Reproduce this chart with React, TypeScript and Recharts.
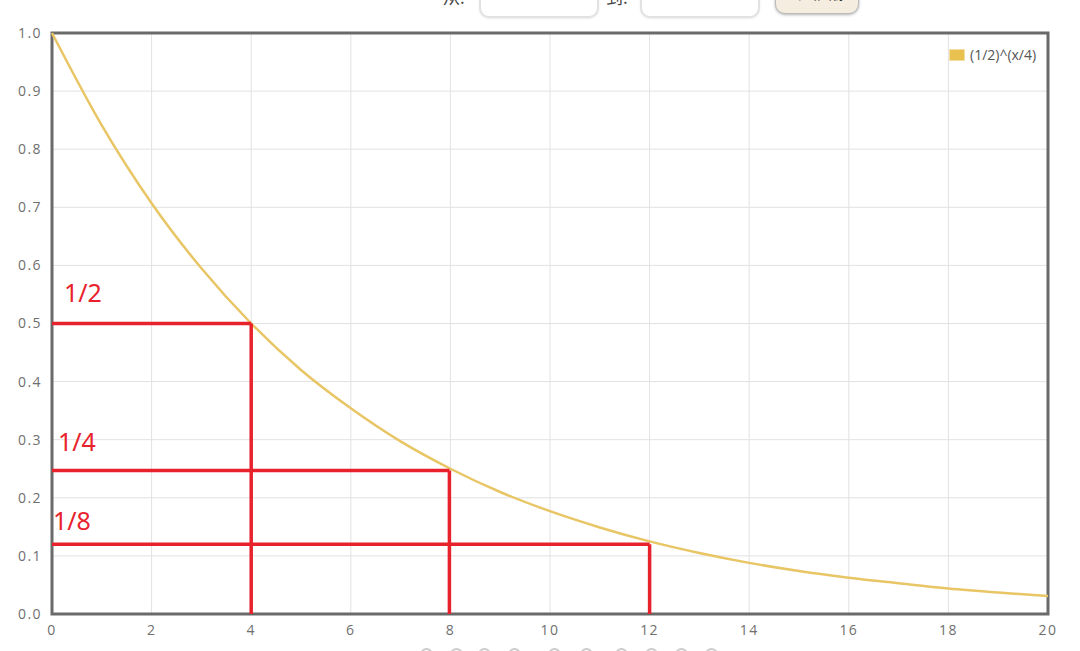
import React from 'react';
import {
  LineChart,
  Line,
  XAxis,
  YAxis,
  CartesianGrid,
  ReferenceLine,
  ReferenceArea,
  ReferenceDot,
} from 'recharts';

// curve values, one per unit of x
const xValues = [0, 1, 2, 3, 4, 5, 6, 7, 8, 9, 10, 11, 12, 13, 14, 15, 16, 17, 18, 19, 20];
const yValues = [1.0, 0.841, 0.707, 0.595, 0.5, 0.42, 0.354, 0.297, 0.25, 0.21, 0.177, 0.149, 0.125, 0.105, 0.088, 0.074, 0.0625, 0.053, 0.044, 0.037, 0.031];

const xTicks = [0, 2, 4, 6, 8, 10, 12, 14, 16, 18, 20];
const yTicks = [0, 0.1, 0.2, 0.3, 0.4, 0.5, 0.6, 0.7, 0.8, 0.9, 1.0];

// red hand-drawn guides: level, x where it meets the curve
const guideLevels = [0.5, 0.247, 0.12];
const guideXs = [4, 7.98, 12];
const guideLabels = ['1/2', '1/4', '1/8'];
const labelXs = [0.62, 0.5, 0.4];
const labelYs = [0.553, 0.295, 0.16];

const seriesName = '(1/2)^(x/4)';

const data = xValues.map((x, i) => ({ x, y: yValues[i] }));

const RED = '#e8222c';
const GOLD = '#e8c565';
const FONT = '"Open Sans", sans-serif';
const tickStyle = { fill: '#6f6f6f', fontSize: 14, fontFamily: FONT, letterSpacing: 1.4 };

const inputStyle: React.CSSProperties = {
  position: 'absolute',
  top: -30,
  width: 116,
  height: 44,
  border: '2px solid #e2e2e2',
  borderRadius: 10,
  background: '#fff',
  boxShadow: '0 1px 2px rgba(0,0,0,0.08)',
};

export default function App() {
  const circles = [420, 450, 478, 508, 548, 580, 615, 645, 675, 705];
  return (
    <div style={{ position: 'fixed', left: 0, top: 0, width: 1080, height: 651, overflow: 'hidden', background: '#fff' }}>
      <div style={{ position: 'absolute', left: 443, top: -16, fontSize: 17, color: '#444', fontFamily: '"Noto Sans CJK SC", sans-serif' }}>从:</div>
      <div style={{ ...inputStyle, left: 479 }} />
      <div style={{ position: 'absolute', left: 606, top: -16, fontSize: 17, color: '#444', fontFamily: '"Noto Sans CJK SC", sans-serif' }}>到:</div>
      <div style={{ ...inputStyle, left: 640 }} />
      <div
        style={{
          position: 'absolute',
          left: 775,
          top: -22,
          width: 82,
          height: 34,
          borderRadius: 10,
          border: '1px solid #bbb',
          background: '#f4ede0',
          boxShadow: '0 1px 3px rgba(0,0,0,0.3)',
          fontSize: 15,
          color: '#333',
          textAlign: 'center',
          lineHeight: '28px',
          fontFamily: '"Noto Sans CJK SC", sans-serif',
        }}
      >
        去画图像
      </div>
      {circles.map((cx) => (
        <div
          key={cx}
          style={{ position: 'absolute', left: cx, top: 648, width: 13, height: 13, borderRadius: '50%', border: '2px solid #ccc', boxSizing: 'border-box' }}
        />
      ))}
      <LineChart
        width={1080}
        height={651}
        data={data}
        margin={{ top: 33, right: 32, bottom: 0, left: 0 }}
        style={{ position: 'absolute', left: 0, top: 0 }}
      >
        <CartesianGrid stroke="#e2e2e2" strokeWidth={1} />
        <XAxis
          dataKey="x"
          type="number"
          domain={[0, 20]}
          ticks={xTicks}
          height={37}
          tickLine={false}
          axisLine={false}
          tick={tickStyle}
          tickMargin={5}
        />
        <YAxis
          type="number"
          domain={[0, 1]}
          ticks={yTicks}
          width={52}
          tickLine={false}
          axisLine={false}
          tickFormatter={(v: number) => v.toFixed(1)}
          tick={tickStyle}
          tickMargin={4}
        />
        <Line
          type="monotone"
          dataKey="y"
          name={seriesName}
          stroke={GOLD}
          strokeWidth={2.5}
          dot={false}
          activeDot={false}
          isAnimationActive={false}
        />
        {guideLevels.map((lv, i) => (
          <ReferenceLine
            key={'h' + i}
            segment={[{ x: 0, y: lv }, { x: guideXs[i], y: lv }]}
            stroke={RED}
            strokeWidth={3.5}
          />
        ))}
        {guideLevels.map((lv, i) => (
          <ReferenceLine
            key={'v' + i}
            segment={[{ x: guideXs[i], y: 0 }, { x: guideXs[i], y: lv }]}
            stroke={RED}
            strokeWidth={3.5}
          />
        ))}
        {guideLabels.map((t, i) => (
          <ReferenceDot
            key={'l' + i}
            x={labelXs[i]}
            y={labelYs[i]}
            r={0}
            stroke="none"
            fill="none"
            label={{ value: t, position: 'center', fill: RED, fontSize: 25, fontFamily: '"Noto Sans", sans-serif' }}
          />
        ))}
        <ReferenceArea x1={0} x2={20} y1={0} y2={1} fill="none" stroke="#6a6a6a" strokeWidth={3} ifOverflow="visible" />
      </LineChart>
      <div
        style={{
          position: 'absolute',
          left: 949,
          top: 45,
          display: 'flex',
          alignItems: 'center',
          fontFamily: FONT,
          fontSize: 14,
          color: '#555',
        }}
      >
        <span style={{ width: 14, height: 10, background: '#e8c14e', border: '1px solid #f3dfa6', marginRight: 5 }} />
        {seriesName}
      </div>
    </div>
  );
}
